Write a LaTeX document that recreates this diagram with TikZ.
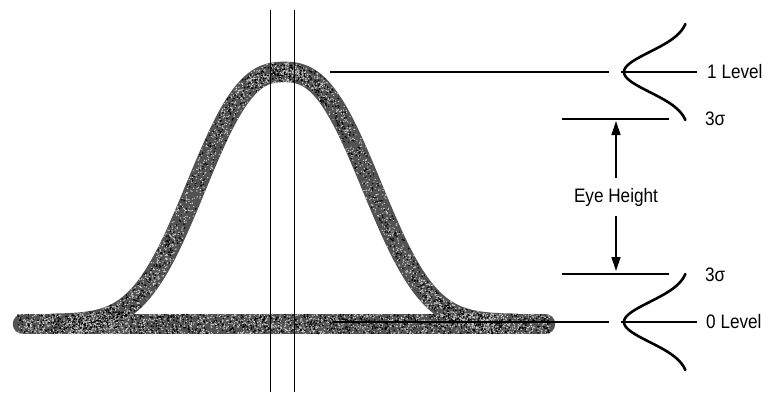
\documentclass[tikz,border=0pt]{standalone}
\usepackage{fontspec}
\usepackage{graphicx}
\setmainfont{Liberation Sans}
\usetikzlibrary{arrows.meta}
\tikzset{
  band/.style={line width=20.5pt, line cap=round, color=black!68},
  thin/.style={line width=1.3pt, black},
  sig/.style={line width=2.6pt, black, line cap=round},
  arr/.style={line width=1.3pt, black, -{Triangle[length=14pt,width=9pt]}},
  lbl/.style={inner sep=0pt, anchor=west, font=\fontsize{19.5}{22}\selectfont},
  speckW/.style={white!80!black},
  speckB/.style={black},
}
\newcommand{\nar}[1]{\scalebox{0.88}[1]{#1}}
\newcommand{\bellY}[1]{324-252*exp(-((abs(#1)+0.01)/107)^2.55)}
\begin{document}
\begin{tikzpicture}[x=1pt,y=-1pt]
\useasboundingbox (0,0) rectangle (769,392);
\pgfmathsetseed{4242}
% noisy signal band
\draw[band] (23,324) -- (545,324);
\draw[band] plot[domain=-232:232, samples=141, variable=\t]
  ({284+\t},{\bellY{\t}});
% speckles on the band
\foreach \i in {1,...,2000}{
  \pgfmathsetmacro\xx{18+532*rnd}
  \pgfmathsetmacro\yy{324+20*(rnd-0.5)}
  \fill[speckW] (\xx,\yy) circle (0.7pt);
}
\foreach \i in {1,...,800}{
  \pgfmathsetmacro\xx{18+532*rnd}
  \pgfmathsetmacro\yy{324+19*(rnd-0.5)}
  \fill[speckB] (\xx,\yy) circle (0.9pt);
}
\foreach \i in {1,...,2100}{
  \pgfmathsetmacro\t{rand*215}
  \pgfmathsetmacro\yc{\bellY{\t}}
  \pgfmathsetmacro\ang{360*rnd}
  \pgfmathsetmacro\rr{10*sqrt(rnd)}
  \fill[speckW] ({284+\t+\rr*cos(\ang)},{\yc+\rr*sin(\ang)}) circle (0.7pt);
}
\foreach \i in {1,...,850}{
  \pgfmathsetmacro\t{rand*215}
  \pgfmathsetmacro\yc{\bellY{\t}}
  \pgfmathsetmacro\ang{360*rnd}
  \pgfmathsetmacro\rr{9.5*sqrt(rnd)}
  \fill[speckB] ({284+\t+\rr*cos(\ang)},{\yc+\rr*sin(\ang)}) circle (0.9pt);
}
% vertical sampling lines
\coordinate (v1t) at (270.7,10);  \coordinate (v1b) at (270.7,392);
\coordinate (v2t) at (294.3,10);  \coordinate (v2b) at (294.3,392);
\draw[thin] (v1t) -- (v1b);
\draw[thin] (v2t) -- (v2b);
% level lines
\coordinate (l1a) at (330,72);  \coordinate (l1b) at (609,72);
\coordinate (l1c) at (621,72);  \coordinate (l1d) at (697,72);
\coordinate (l0a) at (333,322); \coordinate (l0b) at (609,322);
\coordinate (l0c) at (621,322); \coordinate (l0d) at (697,322);
\draw[thin] (l1a) -- (l1b);
\draw[thin] (l1c) -- (l1d);
\draw[thin] (l0a) -- (l0b);
\draw[thin] (l0c) -- (l0d);
% 3 sigma lines
\coordinate (s1a) at (562,119); \coordinate (s1b) at (669,119);
\coordinate (s0a) at (562,274); \coordinate (s0b) at (669,274);
\draw[thin] (s1a) -- (s1b);
\draw[thin] (s0a) -- (s0b);
% sideways distributions
\draw[sig] plot[domain=-48:48, samples=60, variable=\t] ({689-65*exp(-0.5*(\t/20)^2)},{72+\t});
\draw[sig] plot[domain=-48:48, samples=60, variable=\t] ({689-65*exp(-0.5*(\t/20)^2)},{322+\t});
% labels
\node[lbl] (one) at (707,72) {\nar{1 Level}};
\node[lbl] (zero) at (706,322) {\nar{0 Level}};
\node[lbl] (sigU) at (705,119) {\nar{3σ}};
\node[lbl] (sigL) at (705,275) {\nar{3σ}};
\node[font=\fontsize{19.5}{22}\selectfont, inner xsep=0pt, inner ysep=10pt] (eh) at (616,197) {\nar{Eye Height}};
% eye height arrows
\coordinate (tipU) at (616,121);
\coordinate (tipL) at (616,271);
\draw[arr] (eh.north) -- (tipU);
\draw[arr] (eh.south) -- (tipL);
\end{tikzpicture}
\end{document}
